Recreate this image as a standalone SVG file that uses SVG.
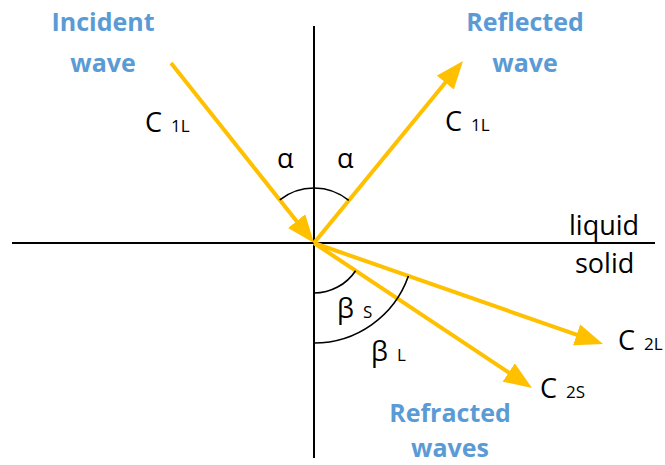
<svg xmlns="http://www.w3.org/2000/svg" width="665" height="465" viewBox="0 0 665 465">
<style>
.axis{stroke:#000;stroke-width:2;fill:none}
.ray{stroke:#FFC000;stroke-width:4;fill:none;marker-end:url(#arr)}
.arc{stroke:#000;stroke-width:1.6;fill:none}
.title{font-family:"Open Sans",sans-serif;font-weight:bold;font-size:25px;fill:#5B9BD5;text-anchor:middle}
.lbl{font-family:"Open Sans",sans-serif;font-size:27px;fill:#000}
.sub{font-size:17px}
</style>
<defs>
<marker id="arr" markerUnits="userSpaceOnUse" markerWidth="30" markerHeight="24" refX="18" refY="11" orient="auto" viewBox="0 0 30 24">
<path d="M0,0 L28,11 L0,22 z" fill="#FFC000"/>
</marker>
</defs>
<rect width="665" height="465" fill="#fff"/>
<g id="axes">
<line class="axis" x1="314" y1="26" x2="314" y2="458"/>
<line class="axis" x1="12" y1="243" x2="655" y2="243"/>
</g>
<g id="connectors">
<path id="incident-ray" class="ray" d="M171,63 L307.8,235.2"/>
<path id="reflected-ray" class="ray" d="M314,243 L456.7,68.7"/>
<path id="refracted-L" class="ray" d="M314,243 L593.6,340.7"/>
<path id="refracted-S" class="ray" d="M314,243 L523.7,382.5"/>
</g>
<g id="angles">
<path class="arc" d="M279.8,199.9 A55,55 0 0 1 348.8,200.4"/>
<path class="arc" d="M314,293 A50,50 0 0 0 355.6,270.7"/>
<path class="arc" d="M314,343 A100,100 0 0 0 408.4,276"/>
</g>
<g id="incident-wave"><text class="title" x="103" y="31">Incident</text><text class="title" x="103" y="72">wave</text></g>
<g id="reflected-wave"><text class="title" x="525" y="31">Reflected</text><text class="title" x="525" y="72">wave</text></g>
<g id="refracted-waves"><text class="title" x="450" y="422">Refracted</text><text class="title" x="450" y="457">waves</text></g>
<g id="labels">
<text class="lbl" x="145" y="132">C<tspan class="sub" dx="9">1L</tspan></text>
<text class="lbl" x="445" y="131">C<tspan class="sub" dx="9">1L</tspan></text>
<text class="lbl" x="618" y="350">C<tspan class="sub" dx="9">2L</tspan></text>
<text class="lbl" x="540" y="398">C<tspan class="sub" dx="9">2S</tspan></text>
<text class="lbl" x="277" y="168">α</text>
<text class="lbl" x="337" y="168">α</text>
<text class="lbl" x="337" y="318">β<tspan class="sub" dx="9">S</tspan></text>
<text class="lbl" x="371" y="361">β<tspan class="sub" dx="9">L</tspan></text>
<text class="lbl" x="569" y="235">liquid</text>
<text class="lbl" x="575" y="273">solid</text>
</g>
</svg>
